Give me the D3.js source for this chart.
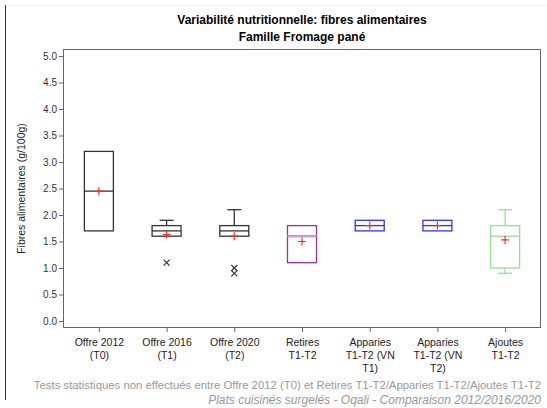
<!DOCTYPE html>
<html><head><meta charset="utf-8">
<script src="https://cdn.jsdelivr.net/npm/d3@7"></script>
<style>body{margin:0;background:#fff}svg{display:block}</style>
</head><body>
<script>
const categories = [["Offre 2012","(T0)"],["Offre 2016","(T1)"],["Offre 2020","(T2)"],["Retires","T1-T2"],["Apparies","T1-T2 (VN","T1)"],["Apparies","T1-T2 (VN","T2)"],["Ajoutes","T1-T2"]];
const whiskerLow  = [1.7, 1.6, 1.6, 1.1, 1.7, 1.7, 0.9];
const q1          = [1.7, 1.6, 1.6, 1.1, 1.7, 1.7, 1.0];
const medians     = [2.45, 1.7, 1.7, 1.6, 1.8, 1.8, 1.6];
const q3          = [3.2, 1.8, 1.8, 1.8, 1.9, 1.9, 1.8];
const whiskerHigh = [3.2, 1.9, 2.1, 1.8, 1.9, 1.9, 2.1];
const means       = [2.45, 1.63, 1.6, 1.5, 1.8, 1.8, 1.53];
const outliers    = [[], [1.1], [1.0, 0.9], [], [], [], []];
const yTicks = [0,0.5,1,1.5,2,2.5,3,3.5,4,4.5,5];
const strokeColors = ["#333333","#333333","#333333","#993399","#3333ff","#3333ff","#99dd99"];
const medianColors = ["#333333","#333333","#333333","#cc99cc","#3333cc","#3333cc","#99dd99"];

const W = 547, H = 408;
const font = "'Liberation Sans', Arial, sans-serif";
const svg = d3.select("body").append("svg").attr("width", W).attr("height", H).style("font-family", font);

const pL = 63, pR = 541, pT = 49, pB = 328;
const y = d3.scaleLinear().domain([0, 5]).range([321, 56]);
const x = d3.scalePoint().domain(d3.range(categories.length)).range([pL, pR]).padding(0.53);

// outer frame lines
svg.append("line").attr("x1", 5).attr("x2", W).attr("y1", 5.5).attr("y2", 5.5).attr("stroke", "#eeeeee");
svg.append("line").attr("x1", 5.5).attr("x2", 5.5).attr("y1", 5).attr("y2", 400).attr("stroke", "#333");

// titles
svg.append("text").attr("x", (pL + pR) / 2).attr("y", 24).attr("text-anchor", "middle")
  .attr("font-size", 12).attr("font-weight", "bold").text("Variabilité nutritionnelle: fibres alimentaires");
svg.append("text").attr("x", (pL + pR) / 2).attr("y", 41).attr("text-anchor", "middle")
  .attr("font-size", 12).attr("font-weight", "bold").text("Famille Fromage pané");

// plot frame
svg.append("rect").attr("x", pL + 0.5).attr("y", pT + 0.5).attr("width", pR - pL - 1).attr("height", pB - pT - 1)
  .attr("fill", "none").attr("stroke", "#666");

// y axis
const yAxis = svg.append("g").attr("transform", `translate(${pL},0)`)
  .call(d3.axisLeft(y).tickValues(yTicks).tickFormat(d3.format(".1f")).tickSize(4).tickSizeOuter(0));
yAxis.select(".domain").remove();
yAxis.selectAll(".tick line").attr("stroke", "#666");
yAxis.selectAll(".tick text").attr("font-family", font).attr("font-size", 10).attr("fill", "#333").attr("x", -6);

// x axis
const xAxis = svg.append("g").attr("transform", `translate(0,${pB})`)
  .call(d3.axisBottom(x).tickSize(4).tickFormat(""));
xAxis.select(".domain").remove();
xAxis.selectAll(".tick line").attr("stroke", "#666");
xAxis.selectAll(".tick").each(function(d) {
  const t = d3.select(this).append("text").attr("fill", "#222").attr("font-size", 10.5)
    .attr("font-family", font).attr("text-anchor", "middle");
  categories[d].forEach((ln, i) => t.append("tspan").attr("x", 0).attr("y", 18 + i * 13).text(ln));
});

// y label
svg.append("text").attr("transform", `translate(25,${y(2.5)}) rotate(-90)`).attr("text-anchor", "middle")
  .attr("font-size", 10.5).attr("fill", "#222").text("Fibres alimentaires (g/100g)");

// boxes
const bw = 29, cap = 14;
const g = svg.append("g");
categories.forEach((c, i) => {
  const cx = x(i), col = strokeColors[i];
  const b = g.append("g");
  if (whiskerHigh[i] > q3[i]) {
    b.append("line").attr("x1", cx).attr("x2", cx).attr("y1", y(q3[i])).attr("y2", y(whiskerHigh[i])).attr("stroke", col).attr("stroke-width", 1.3);
    b.append("line").attr("x1", cx - cap / 2).attr("x2", cx + cap / 2).attr("y1", y(whiskerHigh[i])).attr("y2", y(whiskerHigh[i])).attr("stroke", col).attr("stroke-width", 1.3);
  }
  if (whiskerLow[i] < q1[i]) {
    b.append("line").attr("x1", cx).attr("x2", cx).attr("y1", y(q1[i])).attr("y2", y(whiskerLow[i])).attr("stroke", col).attr("stroke-width", 1.3);
    b.append("line").attr("x1", cx - cap / 2).attr("x2", cx + cap / 2).attr("y1", y(whiskerLow[i])).attr("y2", y(whiskerLow[i])).attr("stroke", col).attr("stroke-width", 1.3);
  }
  b.append("rect").attr("x", cx - bw / 2).attr("y", y(q3[i])).attr("width", bw).attr("height", y(q1[i]) - y(q3[i]))
    .attr("fill", "none").attr("stroke", col).attr("stroke-width", 1.3);
  b.append("line").attr("x1", cx - bw / 2).attr("x2", cx + bw / 2).attr("y1", y(medians[i])).attr("y2", y(medians[i]))
    .attr("stroke", medianColors[i]).attr("stroke-width", i === 3 ? 2.5 : 1.3);
  const my = y(means[i]);
  b.append("path").attr("d", `M${cx - 4},${my}H${cx + 4}M${cx},${my - 4}V${my + 4}`).attr("stroke", "#ff2a2a").attr("stroke-width", 1.2);
  outliers[i].forEach(o => {
    const oy = y(o);
    b.append("path").attr("d", `M${cx - 3},${oy - 3}L${cx + 3},${oy + 3}M${cx - 3},${oy + 3}L${cx + 3},${oy - 3}`).attr("stroke", "#333").attr("stroke-width", 1.2);
  });
});

// footers
svg.append("text").attr("x", 541).attr("y", 389).attr("text-anchor", "end").attr("font-size", 11.35).attr("fill", "#999")
  .text("Tests statistiques non effectués entre Offre 2012 (T0) et Retires T1-T2/Apparies T1-T2/Ajoutes T1-T2");
svg.append("text").attr("x", 541).attr("y", 404).attr("text-anchor", "end").attr("font-size", 12).attr("font-style", "italic").attr("fill", "#999")
  .text("Plats cuisinés surgelés - Oqali - Comparaison 2012/2016/2020");
</script>
</body></html>
